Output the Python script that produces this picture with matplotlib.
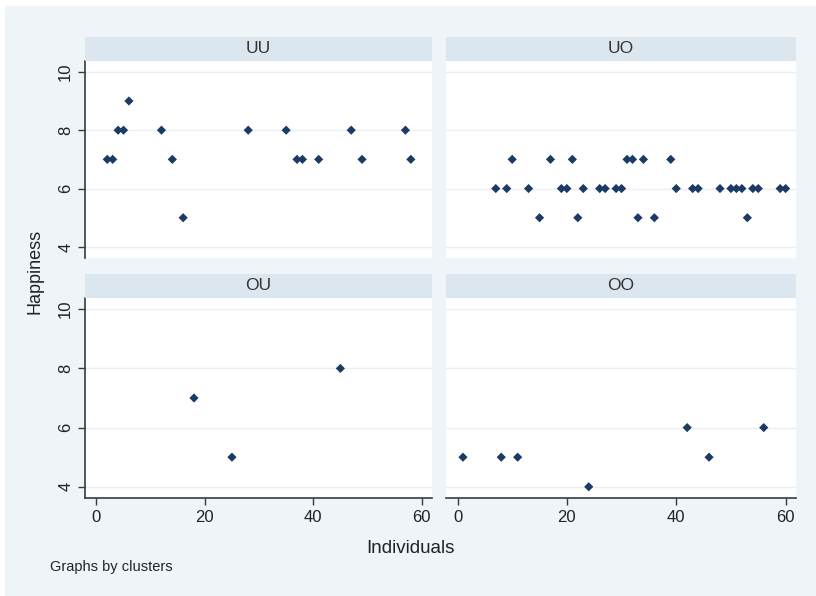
import matplotlib.pyplot as plt
from matplotlib.patches import Rectangle

# happiness by individual, one set per cluster
uu_x = [2, 3, 4, 5, 6, 12, 14, 16, 28, 35, 37, 38, 41, 47, 49, 57, 58]
uu_y = [7, 7, 8, 8, 9, 8, 7, 5, 8, 8, 7, 7, 7, 8, 7, 8, 7]

uo_x = [10, 17, 21, 31, 32, 34, 39,
        7, 9, 13, 19, 20, 23, 26, 27, 29, 30, 40, 43, 44, 48, 50, 51, 52, 54, 55, 59, 60,
        15, 22, 33, 36, 53]
uo_y = [7, 7, 7, 7, 7, 7, 7,
        6, 6, 6, 6, 6, 6, 6, 6, 6, 6, 6, 6, 6, 6, 6, 6, 6, 6, 6, 6, 6,
        5, 5, 5, 5, 5]

ou_x = [18, 25, 45]
ou_y = [7, 5, 8]

oo_x = [1, 8, 11, 24, 42, 46, 56]
oo_y = [5, 5, 5, 4, 6, 5, 6]

clusters = ['UU', 'UO', 'OU', 'OO']
xs = [uu_x, uo_x, ou_x, oo_x]
ys = [uu_y, uo_y, ou_y, oo_y]

x_ticks = [0, 20, 40, 60]
y_ticks = [4, 6, 8, 10]

plt.rcParams['font.family'] = ['Liberation Sans Narrow', 'Liberation Sans', 'DejaVu Sans']

bg = '#eef4f8'
strip = '#dce6ef'
navy = '#1b3a66'
axcol = '#3a3a3a'

fig = plt.figure(figsize=(8.16, 5.96), dpi=100, facecolor='white')
fig.patches.append(Rectangle((5 / 816, 0), 1, 1 - 6 / 596, transform=fig.transFigure,
                             facecolor=bg, edgecolor='none', zorder=-10))

lefts = [0.1042, 0.5466]
widths = [0.4252, 0.4289]
bottoms = [0.5671, 0.1644]
heights = [0.331, 0.3356]
strip_bottoms = [0.8982, 0.5]
strip_h = 0.0403

for i, name in enumerate(clusters):
    r, c = divmod(i, 2)
    ax = fig.add_axes([lefts[c], bottoms[r], widths[c], heights[r]])
    ax.set_facecolor('white')
    ax.scatter(xs[i], ys[i], marker='D', s=22, color=navy, edgecolors='none', zorder=3)
    ax.set_xlim(-2.1, 61.9)
    ax.set_ylim(3.62, 10.38)
    ax.set_xticks(x_ticks)
    ax.set_yticks(y_ticks)
    for v in y_ticks:
        ax.axhline(v, color='#e9eff4', lw=1, zorder=1)
    for s in ax.spines.values():
        s.set_visible(False)
    ax.tick_params(direction='out', length=5, width=1, color=axcol, labelcolor='#222222',
                   labelsize=12)
    if c == 0:
        ax.spines['left'].set_visible(True)
        ax.spines['left'].set_color(axcol)
        ax.spines['left'].set_linewidth(1.2)
        for lab in ax.get_yticklabels():
            lab.set_rotation(90)
            lab.set_va('center')
    else:
        ax.tick_params(axis='y', left=False, labelleft=False)
    if r == 1:
        ax.spines['bottom'].set_visible(True)
        ax.spines['bottom'].set_color(axcol)
        ax.spines['bottom'].set_linewidth(1.2)
    else:
        ax.tick_params(axis='x', bottom=False, labelbottom=False)

    sax = fig.add_axes([lefts[c], strip_bottoms[r], widths[c], strip_h])
    sax.set_facecolor(strip)
    sax.set_xticks([])
    sax.set_yticks([])
    for s in sax.spines.values():
        s.set_visible(False)
    sax.text(0.5, 0.5, name, ha='center', va='center', fontsize=12.5, color='#333333',
             transform=sax.transAxes)

fig.text(0.043, 0.545, 'Happiness', rotation=90, ha='center', va='center', fontsize=13,
         color='#222222')
fig.text(0.503, 0.08, 'Individuals', ha='center', va='center', fontsize=13.5, color='#222222')
fig.text(0.061, 0.049, 'Graphs by clusters', ha='left', va='center', fontsize=10.5,
         color='#222222')

fig.savefig('out.png', dpi=100, facecolor=fig.get_facecolor())
